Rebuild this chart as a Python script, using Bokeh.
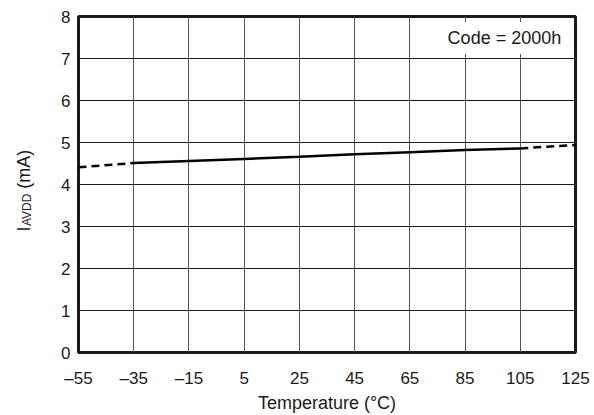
from bokeh.plotting import figure
from bokeh.layouts import row
from bokeh.models import FixedTicker, Label, Range1d
from bokeh.core.properties import value
from bokeh.embed import file_html
from bokeh.resources import INLINE

# ---- data ----
temp_solid = [-35, -15, 5, 25, 45, 65, 85, 105]
iavdd_solid = [4.51, 4.56, 4.61, 4.66, 4.72, 4.77, 4.82, 4.86]
temp_low = [-55, -35]
iavdd_low = [4.41, 4.51]
temp_high = [105, 125]
iavdd_high = [4.86, 4.94]

x_ticks = [-55, -35, -15, 5, 25, 45, 65, 85, 105, 125]
x_tick_labels = ["\u201355", "\u201335", "\u201315", "5", "25", "45", "65", "85", "105", "125"]
y_ticks = [0, 1, 2, 3, 4, 5, 6, 7, 8]

FONT = "Liberation Sans"
INK = "#1a1a1a"
H = 415
TOP, BOTTOM = 16, 62
LAB_W = 40

y_range = Range1d(0, 8)

p = figure(width=590 - LAB_W, height=H, output_backend="svg", toolbar_location=None,
           x_range=Range1d(-55, 125), y_range=y_range,
           min_border_left=78 - LAB_W, min_border_right=15, min_border_top=TOP,
           min_border_bottom=BOTTOM)

p.background_fill_color = "white"
p.border_fill_color = "white"
p.outline_line_color = INK
p.outline_line_width = 3

# grid
p.xgrid.ticker = FixedTicker(ticks=x_ticks)
p.ygrid.ticker = FixedTicker(ticks=y_ticks)
p.xgrid.grid_line_color = "#555555"
p.ygrid.grid_line_color = INK
p.xgrid.grid_line_width = 1
p.ygrid.grid_line_width = 1

# axes
p.xaxis.ticker = FixedTicker(ticks=x_ticks)
p.yaxis.ticker = FixedTicker(ticks=y_ticks)
p.xaxis.major_label_overrides = {t: s for t, s in zip(x_ticks, x_tick_labels)}
for ax in (p.xaxis[0], p.yaxis[0]):
    ax.axis_line_color = None
    ax.major_tick_out = 0
    ax.major_tick_in = 0
    ax.minor_tick_out = 0
    ax.minor_tick_in = 0
    ax.major_label_text_font = FONT
    ax.major_label_text_font_size = "17px"
    ax.major_label_text_color = INK
p.xaxis.major_label_standoff = 16
p.yaxis.major_label_standoff = 8
p.xaxis.axis_label = "Temperature (\u00b0C)"
p.xaxis.axis_label_text_font = FONT
p.xaxis.axis_label_text_font_size = "18px"
p.xaxis.axis_label_text_font_style = "normal"
p.xaxis.axis_label_text_color = INK
p.xaxis.axis_label_standoff = 2

# data lines
p.line(temp_solid, iavdd_solid, line_color="black", line_width=2.5)
p.line(temp_low, iavdd_low, line_color="black", line_width=2.5, line_dash="8 5")
p.line(temp_high, iavdd_high, line_color="black", line_width=2.5, line_dash="8 5")

# annotation box
p.add_layout(Label(x=122, y=7.49, text="Code = 2000h", text_align="right",
                   text_baseline="middle", text_font=FONT, text_font_size="18px",
                   text_color=INK, background_fill_color="white", padding=6))

# ---- y-axis title panel (I with subscript AVDD) ----
lab = figure(width=LAB_W, height=H, output_backend="svg", toolbar_location=None,
             x_range=Range1d(0, LAB_W), y_range=y_range,
             x_axis_location=None, y_axis_location=None,
             min_border_left=0, min_border_right=0, min_border_top=TOP,
             min_border_bottom=BOTTOM)
lab.outline_line_color = None
lab.grid.visible = False
lab.background_fill_color = "white"
lab.border_fill_color = "white"

ang = 1.5707963
lab.text(x=[23], y=[2.88], text=["I"], angle=ang, text_font=value(FONT),
         text_font_size="18px", text_color=INK, text_baseline="alphabetic",
         text_align="left")
lab.text(x=[26.5], y=[3.01], text=["AVDD"], angle=ang, text_font=value(FONT),
         text_font_size="12px", text_color=INK, text_baseline="alphabetic",
         text_align="left")
lab.text(x=[23], y=[3.90], text=["(mA)"], angle=ang, text_font=value(FONT),
         text_font_size="18px", text_color=INK, text_baseline="alphabetic",
         text_align="left")

layout = row(lab, p)
open("out.html", "w").write(file_html(layout, INLINE))
